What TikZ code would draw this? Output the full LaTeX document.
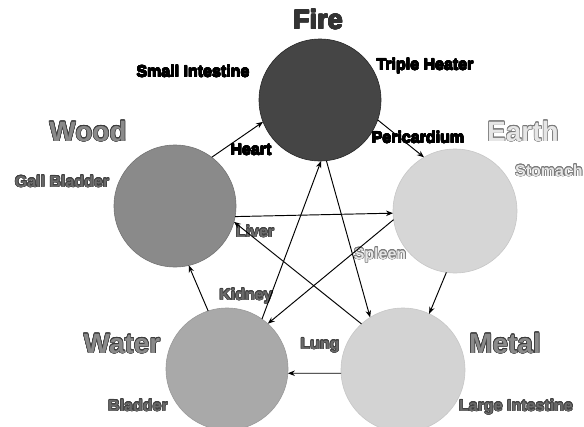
\documentclass[tikz,border=0pt]{standalone}
\usepackage{fontspec}
\setmainfont{Liberation Sans}
\usepackage[copies]{contour}
\usetikzlibrary{arrows.meta}
\contourlength{0.55pt}
\definecolor{firefill}{HTML}{454545}
\definecolor{woodfill}{HTML}{8A8A8A}
\definecolor{earthfill}{HTML}{D6D6D6}
\definecolor{waterfill}{HTML}{A9A9A9}
\definecolor{metalfill}{HTML}{D3D3D3}
\definecolor{darktxt}{HTML}{333333}
\definecolor{midtxt}{HTML}{8A8A8A}
\definecolor{midline}{HTML}{3C3C3C}
\definecolor{lighttxt}{HTML}{E6E6E6}
\definecolor{lightline}{HTML}{7A7A7A}
\definecolor{organtxt}{HTML}{6A6A6A}
\newcommand\outltxt[3]{\contour{#1}{\textcolor{#2}{#3}}}
\newcommand\heavytxt[1]{{\contourlength{0.3pt}\contour{black}{\textcolor{black}{#1}}}}
\tikzset{
  element/.style={circle, inner sep=0pt, outer sep=0pt, minimum size=122pt, line width=0.6pt},
  bigname/.style={anchor=base, inner sep=0pt, font=\fontsize{28}{30}\selectfont\bfseries},
  organ/.style={anchor=base, inner sep=0pt, font=\fontsize{16}{18}\selectfont\bfseries},
  flow/.style={line width=0.95pt, -{Stealth[length=7pt,width=5.5pt]}},
}
\begin{document}
\begin{tikzpicture}[x=1pt,y=-1pt]
\useasboundingbox (0,0) rectangle (584,426);
\clip (0,0) rectangle (584,426);
% circles
\node[element, fill=firefill, draw=black!85] (fire) at (320,100) {};
\node[element, fill=woodfill, draw=black!55] (wood) at (175,206) {};
\node[element, fill=earthfill, draw=black!22, minimum size=124pt] (earth) at (455,211) {};
\node[element, fill=waterfill, draw=black!40] (water) at (227,369) {};
\node[element, fill=metalfill, draw=black!22, minimum size=124pt] (metal) at (403,370) {};
% element names
\node[bigname, font=\fontsize{27}{29}\selectfont\bfseries] (tfire) at (318,29) {\outltxt{darktxt}{darktxt}{Fire}};
\node[bigname] (twood) at (88,141) {\outltxt{midline}{midtxt}{Wood}};
\node[bigname] (tearth) at (523,141) {\outltxt{lightline}{lighttxt}{Earth}};
\node[bigname] (twater) at (122,353) {\outltxt{midline}{midtxt}{Water}};
\node[bigname] (tmetal) at (505,353) {\outltxt{midline}{midtxt}{Metal}};
% organs
\node[organ] (si) at (193,77) {\heavytxt{Small Intestine}};
\node[organ] (th) at (425,70) {\heavytxt{Triple Heater}};
\node[organ] (heart) at (251,155) {\heavytxt{Heart}};
\node[organ] (peri) at (418,143) {\heavytxt{Pericardium}};
\node[organ] (gb) at (62,187) {\outltxt{black!75}{organtxt}{Gall Bladder}};
\node[organ] (liver) at (255,237) {\outltxt{black!75}{organtxt}{Liver}};
\node[organ, anchor=base west] (stom) at (515,176) {\outltxt{lightline}{lighttxt}{Stomach}};
\node[organ] (spleen) at (380,259) {\outltxt{lightline}{lighttxt}{Spleen}};
\node[organ] (kidney) at (246,300) {\outltxt{black!75}{organtxt}{Kidney}};
\node[organ] (lung) at (320,349) {\outltxt{black!75}{organtxt}{Lung}};
\node[organ] (bladder) at (138,411) {\outltxt{black!75}{organtxt}{Bladder}};
\node[organ] (li) at (516,411) {\outltxt{black!75}{organtxt}{Large Intestine}};
% generating cycle
\draw[flow] (wood.53) -- (fire.201);
\draw[flow] (fire.-19) -- (earth.120);
\draw[flow] (earth.262) -- (metal.65);
\draw[flow] (metal.183) -- (water.-4);
\draw[flow] (water.108) -- (wood.283);
% controlling cycle
\draw[flow] (wood.-10) -- (earth.182);
\draw[flow] (earth.188) -- (water.48);
\draw[flow] (water.55) -- (fire.-89);
\draw[flow] (fire.-84) -- (metal.122);
\draw[flow] (metal.132) -- (wood.-15);
\end{tikzpicture}
\end{document}
